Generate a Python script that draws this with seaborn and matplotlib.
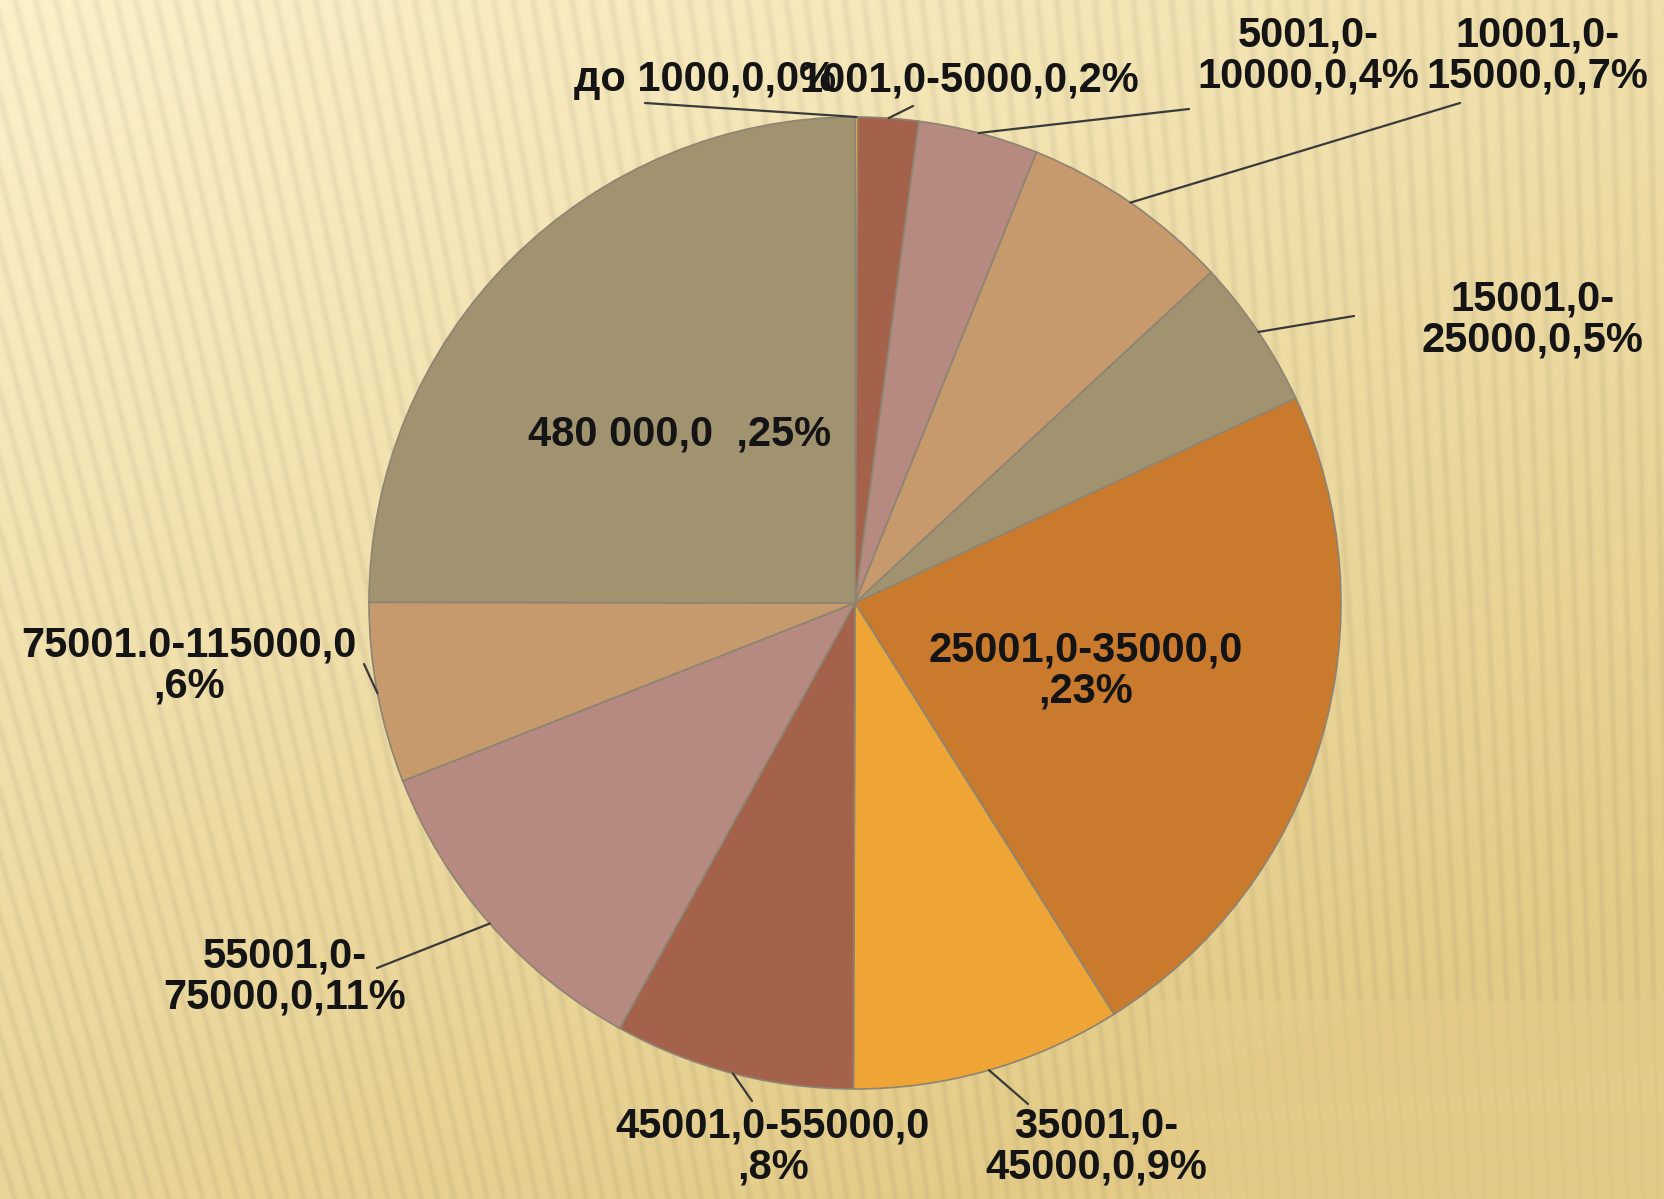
import numpy as np
import matplotlib
matplotlib.use("Agg")
import matplotlib.pyplot as plt
import seaborn as sns

# ---- data ----
categories = ["до 1000,0", "1001,0-5000,0", "5001,0-10000,0", "10001,0-15000,0",
              "15001,0-25000,0", "25001,0-35000,0", "35001,0-45000,0",
              "45001,0-55000,0", "55001,0-75000,0", "75001.0-115000,0", "480 000,0"]
values = [0.1, 2, 4, 7, 5, 23, 9, 8, 11, 6, 25]
label_texts = ["до 1000,0,0%", "1001,0-5000,0,2%", "5001,0-\n10000,0,4%",
               "10001,0-\n15000,0,7%", "15001,0-\n25000,0,5%",
               "25001,0-35000,0\n,23%", "35001,0-\n45000,0,9%",
               "45001,0-55000,0\n,8%", "55001,0-\n75000,0,11%",
               "75001.0-115000,0\n,6%", "480 000,0  ,25%"]
colors = ["#E9A33C", "#A5624B", "#B68A80", "#C69A6C", "#A1936F", "#C97A2D",
          "#EEA536", "#A5624B", "#B68A80", "#C69A6C", "#A1936F"]

# layout (pixel positions, y measured from top)
label_pos = [(705, 80), (969, 80), (1308, 56), (1537, 56), (1532, 320),
             (1086, 671), (1096, 1147), (773, 1147), (285, 977), (189, 666), (680, 435)]
leader_start = [(645, 103), (913, 106), (1189, 109), (1460, 103), (1354, 316),
                None, (1028, 1104), (752, 1101), (377, 968), (364, 664), None]

W, H = 1665, 1199
sns.set_theme(style="white")
plt.rcParams['font.family'] = ['Liberation Sans', 'DejaVu Sans']

fig = plt.figure(figsize=(W / 100, H / 100), dpi=100)
ax = fig.add_axes([0, 0, 1, 1])
ax.set_xlim(0, W)
ax.set_ylim(0, H)
ax.axis("off")

# ---- striped background ----
yy, xx = np.mgrid[0:H, 0:W].astype(float)
t = np.clip((xx / W) * 0.45 + (yy / H) * 0.75, 0, 1)
c0 = np.array([252, 241, 202]) / 255.0
c1 = np.array([228, 204, 136]) / 255.0
base = c0[None, None, :] * (1 - t[..., None]) + c1[None, None, :] * t[..., None]
fx, fy = 1800.0, 7000.0
phi = np.arctan2(xx - fx, fy - yy)
dphi = 19.0 / 7000.0
s = 0.5 + 0.5 * np.cos(2 * np.pi * phi / dphi)
amp = 0.055 * np.where((yy > 1000) & (xx > 1150), 0.35, 1.0)
img = base * (1 - amp[..., None] * s[..., None] ** 3)
ax.imshow(np.clip(img, 0, 1), extent=(0, W, 0, H), origin="upper", aspect="auto", zorder=0)

# ---- pie ----
cx, cy, R = 855, H - 603, 486
wedges, _ = ax.pie(values, colors=colors, startangle=90, counterclock=False,
                   center=(cx, cy), radius=R, frame=True,
                   wedgeprops=dict(edgecolor="#8E8472", linewidth=1.2))
ax.set_xlim(0, W)
ax.set_ylim(0, H)
ax.set_aspect("equal")
ax.axis("off")
for w in wedges:
    w.set_zorder(2)

for i, (w, txt) in enumerate(zip(wedges, label_texts)):
    lx, ly = label_pos[i]
    ax.text(lx, H - ly, txt, ha="center", va="center", fontsize=30,
            fontweight="bold", color="#141414", linespacing=1.05, zorder=5)
    if leader_start[i] is not None:
        mid = np.deg2rad((w.theta1 + w.theta2) / 2)
        ex = cx + R * np.cos(mid)
        ey = cy + R * np.sin(mid)
        sx, sy = leader_start[i]
        ax.plot([sx, ex], [H - sy, ey], color="#3a3a3a", linewidth=1.6, zorder=4)

fig.savefig("out.png", dpi=100)
